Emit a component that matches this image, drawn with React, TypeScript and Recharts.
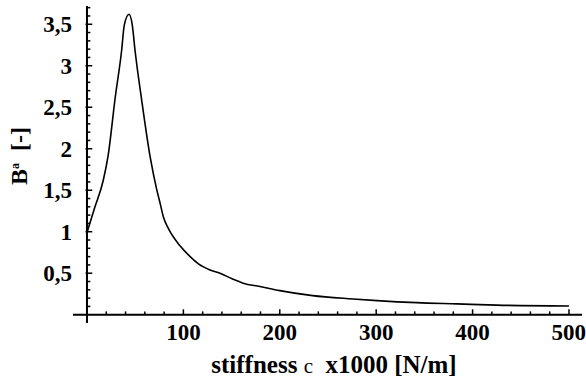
import React from 'react';
import { LineChart, Line, XAxis, YAxis, ReferenceLine } from 'recharts';

// --- Data ---
const STIFFNESS = [0, 8.3, 16.9, 22.1, 29, 36, 38.7, 43.6, 47, 49.8, 56.7, 65.4, 72.3, 75.7, 79.2, 84.4, 96.5, 107, 116, 127.6, 138, 151, 162, 179.5, 200, 234, 276, 301, 342, 384, 425, 500];
const BA = [0.99, 1.30, 1.62, 1.93, 2.59, 3.19, 3.49, 3.62, 3.49, 3.19, 2.59, 1.91, 1.51, 1.35, 1.18, 1.04, 0.83, 0.70, 0.61, 0.54, 0.50, 0.43, 0.38, 0.34, 0.29, 0.23, 0.19, 0.17, 0.145, 0.13, 0.115, 0.105];

// --- Axis ticks ---
const X_TICKS = [100, 200, 300, 400, 500];
const X_MINOR = [20, 40, 60, 80, 120, 140, 160, 180, 220, 240, 260, 280, 320, 340, 360, 380, 420, 440, 460, 480];
const Y_TICKS = [0.5, 1, 1.5, 2, 2.5, 3, 3.5];
const Y_MINOR = [0.1, 0.2, 0.3, 0.4, 0.6, 0.7, 0.8, 0.9, 1.1, 1.2, 1.3, 1.4, 1.6, 1.7, 1.8, 1.9, 2.1, 2.2, 2.3, 2.4, 2.6, 2.7, 2.8, 2.9, 3.1, 3.2, 3.3, 3.4, 3.6, 3.7];

const data = STIFFNESS.map((c, i) => ({ c, ba: BA[i] }));

const FONT = '"Liberation Serif", "Times New Roman", serif';
const tickStyle = { fontFamily: FONT, fontWeight: 700, fontSize: 23, fill: '#000' };
const NB = '\u00a0';

export default function App() {
  return (
    <div style={{ position: 'absolute', left: 0, top: 0, width: 586, height: 387, background: '#fff' }}>
      <LineChart width={586} height={387} data={data} margin={{ top: 6, right: 4, left: 0, bottom: 0 }}>
        <XAxis
          dataKey="c"
          type="number"
          domain={[-14.5, 513.5]}
          ticks={X_TICKS}
          axisLine={false}
          tickLine={false}
          tickSize={0}
          tickMargin={1}
          height={64}
          tick={tickStyle}
        />
        <YAxis
          type="number"
          domain={[-0.1, 3.72]}
          ticks={Y_TICKS}
          axisLine={false}
          tickLine={false}
          tickSize={0}
          tickMargin={1}
          width={73}
          tick={tickStyle}
          tickFormatter={(v: number) => String(v).replace('.', ',')}
        />
        {/* axes through the origin */}
        <ReferenceLine x={0} stroke="#000" strokeWidth={2} />
        <ReferenceLine y={0} stroke="#000" strokeWidth={2} />
        {X_TICKS.map((t) => (
          <ReferenceLine key={`xt-${t}`} segment={[{ x: t, y: 0 }, { x: t, y: 0.065 }]} stroke="#000" strokeWidth={1.5} ifOverflow="visible" />
        ))}
        {X_MINOR.map((t) => (
          <ReferenceLine key={`xm-${t}`} segment={[{ x: t, y: 0 }, { x: t, y: 0.04 }]} stroke="#000" strokeWidth={1.5} ifOverflow="visible" />
        ))}
        {Y_TICKS.map((t) => (
          <ReferenceLine key={`yt-${t}`} segment={[{ x: -1.5, y: t }, { x: 5.5, y: t }]} stroke="#000" strokeWidth={1.5} ifOverflow="visible" />
        ))}
        {Y_MINOR.map((t) => (
          <ReferenceLine key={`ym-${t}`} segment={[{ x: 0, y: t }, { x: 3.5, y: t }]} stroke="#000" strokeWidth={1.5} ifOverflow="visible" />
        ))}
        <Line type="monotone" dataKey="ba" stroke="#000" strokeWidth={1.6} dot={false} isAnimationActive={false} />
        <text x={334} y={373} textAnchor="middle" fontFamily={FONT} fontWeight={700} fontSize={25} fill="#000">
          {`stiffness${NB}`}<tspan fontWeight={400} fontSize={21}>c</tspan>{`${NB}${NB}x1000${NB}[N/m]`}
        </text>
        <text x={27} y={156} textAnchor="middle" transform="rotate(-90, 27, 156)" fontFamily={FONT} fontWeight={700} fontSize={24} fill="#000">
          B<tspan fontSize={12} dy={-8}>a</tspan><tspan dy={8}>{`${NB}${NB}[-]`}</tspan>
        </text>
      </LineChart>
    </div>
  );
}
